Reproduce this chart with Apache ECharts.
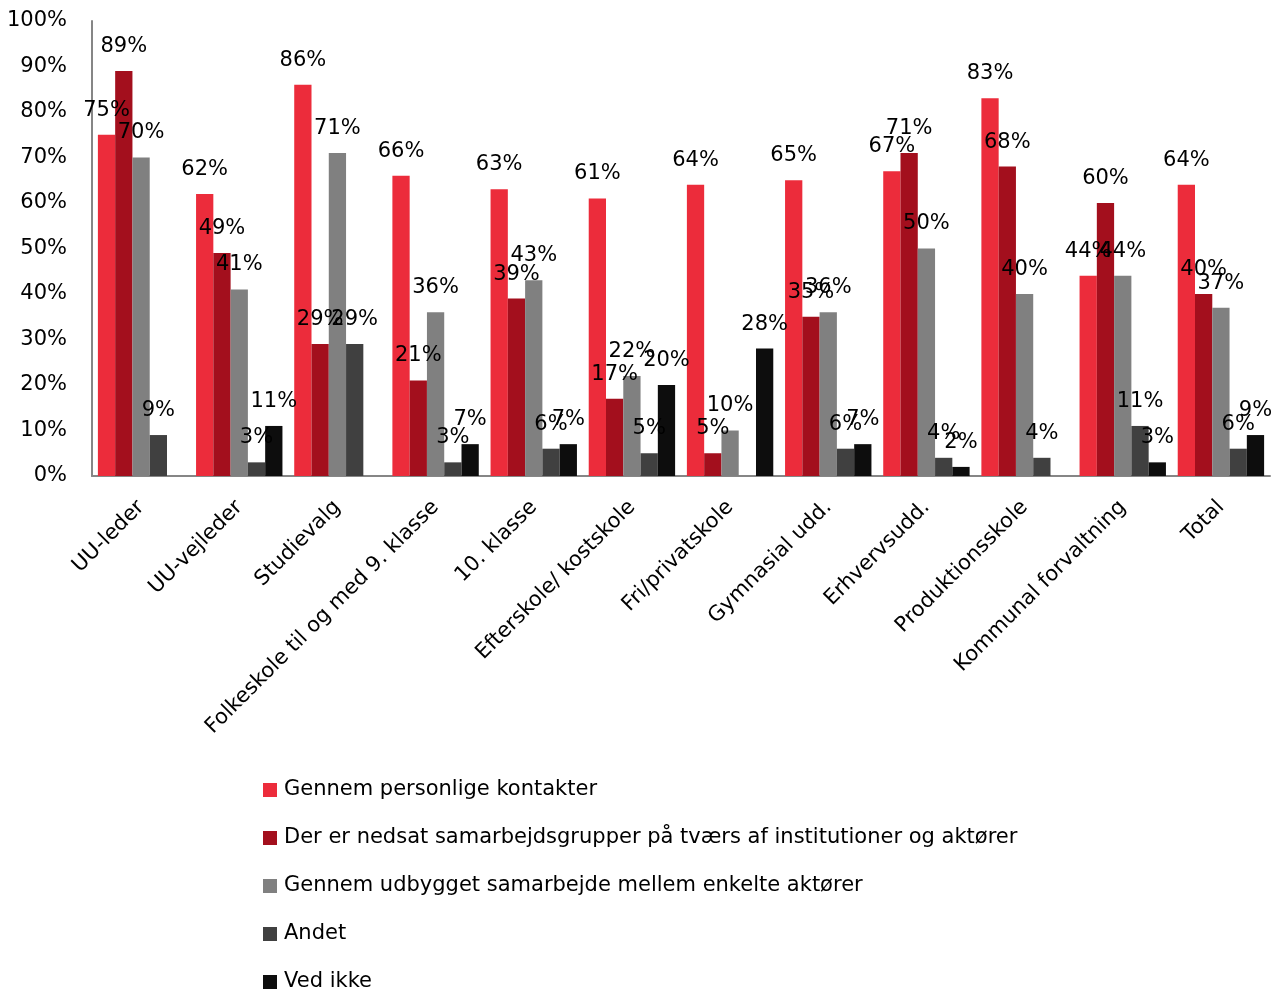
<!DOCTYPE html>
<html>
<head>
<meta charset="UTF-8">
<title>Samarbejde</title>
<script src="https://cdn.jsdelivr.net/npm/echarts@6/dist/echarts.min.js"></script>
<style>
  html, body { margin: 0; padding: 0; background: #fff; }
  #main { width: 1277px; height: 992px; }
</style>
</head>
<body>
<div id="main"></div>
<script>
  var categories = ['UU-leder', 'UU-vejleder', 'Studievalg', 'Folkeskole til og med 9. klasse', '10. klasse',
    'Efterskole/ kostskole', 'Fri/privatskole', 'Gymnasial udd.', 'Erhvervsudd.', 'Produktionsskole',
    'Kommunal forvaltning', 'Total'];
  var seriesNames = ['Gennem personlige kontakter',
    'Der er nedsat samarbejdsgrupper på tværs af institutioner og aktører',
    'Gennem udbygget samarbejde mellem enkelte aktører',
    'Andet',
    'Ved ikke'];
  var personlige = [75, 62, 86, 66, 63, 61, 64, 65, 67, 83, 44, 64];
  var grupper    = [89, 49, 29, 21, 39, 17, 5, 35, 71, 68, 60, 40];
  var udbygget   = [70, 41, 71, 36, 43, 22, 10, 36, 50, 40, 44, 37];
  var andet      = [9, 3, 29, 3, 6, 5, null, 6, 4, 4, 11, 6];
  var vedIkke    = [null, 11, null, 7, 7, 20, 28, 7, 2, null, 3, 9];
  var colors = ['#EC2C3B', '#A30F1D', '#808080', '#404040', '#0D0D0D'];
  var font = 'DejaVu Sans';

  var values = [personlige, grupper, udbygget, andet, vedIkke];
  var series = [];
  for (var i = 0; i < values.length; i++) {
    series.push({
      name: seriesNames[i],
      type: 'bar',
      data: values[i],
      barGap: '0%',
      barCategoryGap: '12%',
      itemStyle: { color: colors[i] },
      label: {
        show: true,
        position: 'top',
        distance: 14,
        formatter: '{c}%',
        color: '#000',
        fontFamily: font,
        fontSize: 21
      }
    });
  }

  var chart = echarts.init(document.getElementById('main'));
  chart.setOption({
    animation: false,
    color: colors,
    grid: { left: 92, right: 7, top: 21, bottom: 516 },
    legend: {
      orient: 'vertical',
      left: 258,
      top: 773,
      height: 250,
      itemWidth: 14,
      itemHeight: 14,
      itemGap: 24,
      icon: 'rect',
      textStyle: { fontFamily: font, fontSize: 21, color: '#000', lineHeight: 24, padding: [0, 0, 0, 2] },
      data: seriesNames
    },
    xAxis: {
      type: 'category',
      data: categories,
      axisLine: { lineStyle: { color: '#868686', width: 2 } },
      axisTick: { show: false },
      axisLabel: {
        interval: 0,
        rotate: 45,
        margin: 28,
        color: '#000',
        fontFamily: font,
        fontSize: 21
      }
    },
    yAxis: {
      type: 'value',
      min: 0,
      max: 100,
      interval: 10,
      axisLine: { show: true, lineStyle: { color: '#868686', width: 2 } },
      axisTick: { show: false },
      splitLine: { show: false },
      axisLabel: {
        formatter: '{value}%',
        margin: 25,
        padding: [5, 0, 0, 0],
        color: '#000',
        fontFamily: font,
        fontSize: 21
      }
    },
    series: series
  });
</script>
</body>
</html>
